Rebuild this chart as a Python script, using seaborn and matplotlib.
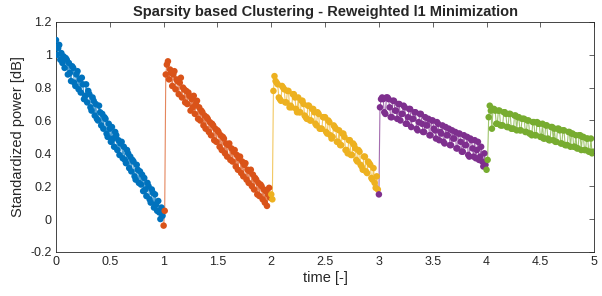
import numpy as np
import pandas as pd
import matplotlib
matplotlib.use('Agg')
import matplotlib.pyplot as plt
import seaborn as sns
from matplotlib.ticker import FormatStrFormatter, MultipleLocator

# Standardized power per cluster, 100 samples each
blue = [1.09, 1.00, 1.04, 1.06, 0.97, 1.01, 0.95, 0.99, 0.92, 0.98,
        0.97, 0.88, 0.95, 0.89, 0.84, 0.93, 0.92, 0.83, 0.81, 0.88,
        0.90, 0.79, 0.85, 0.77, 0.86, 0.82, 0.73, 0.75, 0.82, 0.71,
        0.78, 0.76, 0.68, 0.66, 0.74, 0.72, 0.63, 0.70, 0.61, 0.60,
        0.69, 0.65, 0.57, 0.64, 0.55, 0.62, 0.61, 0.52, 0.50, 0.58,
        0.55, 0.47, 0.56, 0.49, 0.44, 0.53, 0.51, 0.42, 0.48, 0.39,
        0.46, 0.47, 0.37, 0.44, 0.36, 0.34, 0.42, 0.40, 0.31, 0.38,
        0.29, 0.36, 0.35, 0.26, 0.24, 0.33, 0.30, 0.22, 0.29, 0.21,
        0.27, 0.17, 0.25, 0.18, 0.14, 0.22, 0.20, 0.12, 0.10, 0.18,
        0.16, 0.07, 0.15, 0.09, 0.05, 0.11, 0.04, 0.00, 0.07, 0.02]
orange = [-0.04, 0.05, 0.88, 0.94, 0.96, 0.85, 0.91, 0.89, 0.81, 0.88,
          0.90, 0.79, 0.85, 0.84, 0.76, 0.83, 0.86, 0.74, 0.80, 0.79,
          0.71, 0.78, 0.70, 0.77, 0.75, 0.66, 0.73, 0.68, 0.75, 0.64,
          0.70, 0.72, 0.61, 0.68, 0.60, 0.66, 0.65, 0.57, 0.63, 0.55,
          0.62, 0.61, 0.53, 0.59, 0.51, 0.58, 0.57, 0.48, 0.55, 0.47,
          0.54, 0.53, 0.44, 0.51, 0.42, 0.50, 0.49, 0.40, 0.46, 0.38,
          0.45, 0.46, 0.36, 0.43, 0.35, 0.41, 0.42, 0.32, 0.39, 0.30,
          0.37, 0.38, 0.28, 0.35, 0.26, 0.33, 0.34, 0.24, 0.30, 0.22,
          0.29, 0.30, 0.20, 0.27, 0.18, 0.25, 0.24, 0.15, 0.22, 0.14,
          0.21, 0.20, 0.12, 0.18, 0.10, 0.17, 0.08, 0.15, 0.19, 0.13]
yellow = [0.15, 0.12, 0.78, 0.87, 0.84, 0.83, 0.82, 0.74, 0.73, 0.72,
          0.81, 0.80, 0.79, 0.71, 0.71, 0.78, 0.78, 0.68, 0.69, 0.68,
          0.76, 0.76, 0.74, 0.67, 0.65, 0.74, 0.65, 0.65, 0.72, 0.72,
          0.70, 0.63, 0.62, 0.61, 0.69, 0.69, 0.60, 0.60, 0.67, 0.67,
          0.65, 0.58, 0.57, 0.65, 0.64, 0.55, 0.55, 0.55, 0.62, 0.62,
          0.62, 0.53, 0.52, 0.60, 0.59, 0.51, 0.49, 0.50, 0.57, 0.56,
          0.55, 0.47, 0.47, 0.54, 0.45, 0.45, 0.52, 0.52, 0.50, 0.42,
          0.42, 0.40, 0.48, 0.48, 0.39, 0.39, 0.46, 0.45, 0.43, 0.36,
          0.35, 0.42, 0.41, 0.33, 0.32, 0.30, 0.38, 0.38, 0.29, 0.28,
          0.35, 0.34, 0.33, 0.25, 0.24, 0.31, 0.22, 0.19, 0.26, 0.18]
purple = [0.15, 0.68, 0.73, 0.74, 0.73, 0.65, 0.64, 0.74, 0.74, 0.73,
          0.68, 0.62, 0.62, 0.72, 0.72, 0.66, 0.66, 0.61, 0.70, 0.70,
          0.60, 0.64, 0.64, 0.69, 0.68, 0.58, 0.58, 0.62, 0.67, 0.67,
          0.56, 0.61, 0.61, 0.65, 0.65, 0.55, 0.54, 0.59, 0.64, 0.64,
          0.58, 0.53, 0.53, 0.62, 0.57, 0.57, 0.61, 0.51, 0.51, 0.60,
          0.60, 0.55, 0.54, 0.49, 0.59, 0.58, 0.48, 0.53, 0.52, 0.57,
          0.47, 0.46, 0.56, 0.51, 0.51, 0.55, 0.45, 0.45, 0.54, 0.49,
          0.49, 0.53, 0.43, 0.43, 0.52, 0.52, 0.47, 0.41, 0.41, 0.51,
          0.45, 0.45, 0.50, 0.39, 0.38, 0.49, 0.48, 0.43, 0.38, 0.48,
          0.37, 0.42, 0.47, 0.36, 0.38, 0.44, 0.35, 0.32, 0.40, 0.33]
green = [0.30, 0.36, 0.62, 0.69, 0.66, 0.55, 0.67, 0.67, 0.66, 0.58,
         0.58, 0.66, 0.66, 0.57, 0.57, 0.57, 0.65, 0.65, 0.64, 0.56,
         0.56, 0.64, 0.64, 0.55, 0.55, 0.55, 0.63, 0.63, 0.54, 0.62,
         0.62, 0.54, 0.54, 0.61, 0.61, 0.61, 0.53, 0.53, 0.60, 0.60,
         0.52, 0.52, 0.51, 0.59, 0.59, 0.51, 0.51, 0.59, 0.58, 0.58,
         0.50, 0.50, 0.58, 0.49, 0.49, 0.57, 0.57, 0.49, 0.48, 0.48,
         0.56, 0.56, 0.48, 0.55, 0.47, 0.47, 0.55, 0.55, 0.54, 0.46,
         0.46, 0.54, 0.54, 0.45, 0.45, 0.45, 0.53, 0.53, 0.44, 0.52,
         0.52, 0.44, 0.44, 0.51, 0.43, 0.43, 0.51, 0.51, 0.42, 0.50,
         0.50, 0.42, 0.42, 0.49, 0.49, 0.41, 0.41, 0.49, 0.40, 0.41]

clusters = [blue, orange, yellow, purple, green]
colors = ['#0072BD', '#D95319', '#EDB120', '#7E2F8E', '#77AC30']
sample_step = 0.01

rows = []
for k, vals in enumerate(clusters):
    for i, v in enumerate(vals):
        rows.append({'time': k + i * sample_step, 'power': v, 'cluster': k})
df = pd.DataFrame(rows)

sns.set_style('white')
plt.rcParams['font.family'] = ['Liberation Sans', 'DejaVu Sans']

fig = plt.figure(figsize=(6.02, 2.96), dpi=100)
ax = fig.add_axes([0.093, 0.149, 0.894, 0.777])

sns.lineplot(data=df, x='time', y='power', hue='cluster', palette=colors,
             sort=False, lw=0.8, alpha=0.7, legend=False, ax=ax)
sns.scatterplot(data=df, x='time', y='power', hue='cluster', palette=colors,
                s=22, linewidth=0, legend=False, ax=ax, zorder=3)

ax.set_xlim(0, 5)
ax.set_ylim(-0.2, 1.2)
ax.xaxis.set_major_locator(MultipleLocator(0.5))
ax.yaxis.set_major_locator(MultipleLocator(0.2))
ax.xaxis.set_major_formatter(FormatStrFormatter('%g'))
ax.yaxis.set_major_formatter(FormatStrFormatter('%g'))
ax.tick_params(direction='in', length=3.5, width=0.5, colors='#262626',
               labelsize=9, top=True, right=True, pad=3)
for sp in ax.spines.values():
    sp.set_linewidth(0.6)
    sp.set_color('#262626')

ax.set_xlabel('time [-]', fontsize=10.5, color='#262626', labelpad=2)
ax.set_ylabel('Standardized power [dB]', fontsize=10.5, color='#262626', labelpad=4)
ax.set_title('Sparsity based Clustering - Reweighted l1 Minimization',
             fontsize=10.5, fontweight='bold', pad=4)

fig.savefig('out.png', dpi=100)
